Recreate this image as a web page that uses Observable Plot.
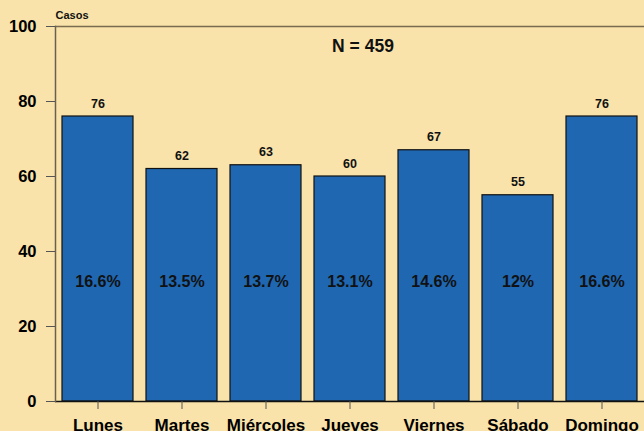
<!DOCTYPE html>
<html>
<head>
<meta charset="utf-8">
<script src="https://cdn.jsdelivr.net/npm/d3@7"></script>
<script src="https://cdn.jsdelivr.net/npm/@observablehq/plot@0.6"></script>
<style>
  html, body { margin: 0; padding: 0; background: #F9E3AA; }
  #chart { width: 644px; height: 431px; overflow: hidden; }
</style>
</head>
<body>
<div id="chart"></div>
<script>
const days = ["Lunes", "Martes", "Miércoles", "Jueves", "Viernes", "Sábado", "Domingo"];
const counts = [76, 62, 63, 60, 67, 55, 76];
const percents = ["16.6%", "13.5%", "13.7%", "13.1%", "14.6%", "12%", "16.6%"];
const yTicks = [0, 20, 40, 60, 80, 100];
const yLabel = "Casos";
const note = "N = 459";

const data = days.map((d, i) => ({day: d, count: counts[i], pct: percents[i]}));
const font = "Liberation Sans, Arial, sans-serif";

const chart = Plot.plot({
  width: 644,
  height: 431,
  marginLeft: 55,
  marginRight: 0,
  marginTop: 26,
  marginBottom: 30,
  style: {background: "#F9E3AA", fontFamily: font, color: "#000"},
  x: {type: "band", domain: days, paddingInner: 0.155, paddingOuter: 0.0775, align: 0.5},
  y: {domain: [0, 100]},
  marks: [
    Plot.barY(data, {x: "day", y: "count", fill: "#1F67B1", stroke: "#111", strokeWidth: 1.2}),
    Plot.ruleY([100], {stroke: "#7a6a50", strokeWidth: 1.5}),
    Plot.ruleY([0], {stroke: "#111", strokeWidth: 1.5}),
    Plot.frame({anchor: "left", stroke: "#6b6050", strokeWidth: 1.5}),
    Plot.axisY({ticks: yTicks, tickSize: 9, tickPadding: 10, fontSize: 16.5, fontWeight: "bold", label: null, stroke: "#555"}),
    Plot.axisX({tickSize: 8, tickPadding: 9, fontSize: 17, fontWeight: "bold", label: null, stroke: "#555"}),
    Plot.text(data, {x: "day", y: "count", text: d => String(d.count), dy: -13, fontSize: 12.5, fontWeight: "bold", fill: "#111"}),
    Plot.text(data, {x: "day", y: () => 32, text: "pct", fontSize: 16, fontWeight: "bold", fill: "#111"}),
    Plot.text([yLabel], {frameAnchor: "top-left", lineAnchor: "middle", text: d => d, dy: -11, textAnchor: "start", fontSize: 11, fontWeight: "bold", fill: "#111"}),
    Plot.text([note], {frameAnchor: "top", lineAnchor: "middle", text: d => d, dx: 13, dy: 20, fontSize: 17.5, fontWeight: "bold", fill: "#111"})
  ]
});
document.getElementById("chart").appendChild(chart);
</script>
</body>
</html>
